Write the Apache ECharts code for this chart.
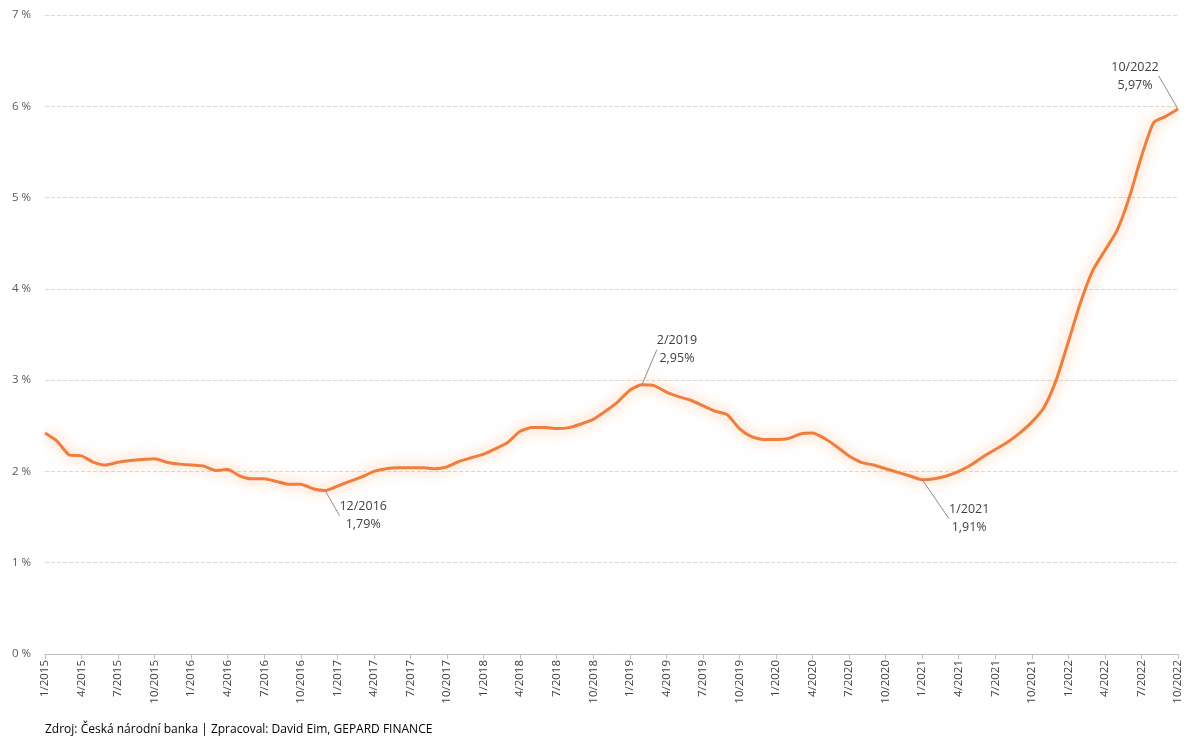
<!DOCTYPE html>
<html><head><meta charset="utf-8">
<script src="https://cdn.jsdelivr.net/npm/echarts@6/dist/echarts.min.js"></script>
<style>html,body{margin:0;background:#fff}#c{width:1200px;height:745px}</style>
</head><body><div id="c"></div>
<script>
const years=[2015,2016,2017,2018,2019,2020,2021,2022];
const categories=[];
years.forEach(y=>{for(let m=1;m<=12;m++){if(y===2022&&m>10)break;categories.push(m+'/'+y);}});
const rates=[
2.42,2.33,2.18,2.17,2.10,2.07,2.10,2.12,2.13,2.14,2.10,2.08,
2.07,2.06,2.01,2.02,1.95,1.92,1.92,1.89,1.86,1.86,1.81,1.79,
1.84,1.89,1.94,2.00,2.03,2.04,2.04,2.04,2.03,2.05,2.11,2.15,
2.19,2.25,2.32,2.44,2.48,2.48,2.47,2.48,2.52,2.57,2.66,2.76,
2.89,2.95,2.94,2.87,2.82,2.78,2.72,2.66,2.62,2.47,2.38,2.35,
2.35,2.36,2.41,2.42,2.36,2.27,2.17,2.10,2.07,2.03,1.99,1.95,
1.91,1.92,1.95,2.00,2.07,2.16,2.24,2.32,2.42,2.54,2.70,3.00,
3.42,3.85,4.20,4.42,4.64,5.00,5.45,5.82,5.89,5.97];
const callouts={'12/2016':[38,48],'2/2019':[35,-12],'1/2021':[47,62],'10/2022':[-43,-10]};
const data=rates.map((v,i)=>{
  const c=categories[i];
  if(callouts[c]) return {value:v,label:{show:true,formatter:c+'\n'+v.toFixed(2).replace('.',',')+'%'}};
  return v;
});
const chart=echarts.init(document.getElementById('c'));
chart.setOption({
  animation:false,
  grid:{left:45,right:22,top:15,bottom:91,containLabel:false},
  xAxis:{type:'category',data:categories,boundaryGap:false,
    axisLine:{lineStyle:{color:'#bfbfbf'}},axisTick:{show:true,interval:2,lineStyle:{color:'#bfbfbf'}},
    axisLabel:{interval:2,rotate:90,color:'#404040',fontFamily:'Open Sans',fontSize:11.5,margin:6}},
  yAxis:{type:'value',min:0,max:7,interval:1,
    axisLabel:{formatter:v=>v+' %',color:'#595959',fontFamily:'Open Sans',fontSize:11.5,margin:14},
    splitLine:{lineStyle:{color:'#d9d9d9',type:'dashed'}}},
  series:[{type:'line',data:data,symbol:'circle',symbolSize:0.1,showSymbol:true,smooth:0.2,
    itemStyle:{color:'#f07d3c'},
    lineStyle:{color:'#f07d3c',width:3,shadowColor:'rgba(250,150,80,0.8)',shadowBlur:14},
    label:{show:false,color:'#404040',fontFamily:'Open Sans',fontSize:12.5,lineHeight:18,align:'center'},
    labelLine:{show:true,lineStyle:{color:'#8c8c8c',width:1}},
    labelLayout:function(p){const c=categories[p.dataIndex];const o=callouts[c];return o?{dx:o[0],dy:o[1]}:{};}
  }],
  graphic:[{type:'text',left:45,top:724,style:{text:'Zdroj: Česká národní banka | Zpracoval: David Eim, GEPARD FINANCE',fill:'#000',fontFamily:'Open Sans',fontSize:12}}]
});
</script></body></html>
